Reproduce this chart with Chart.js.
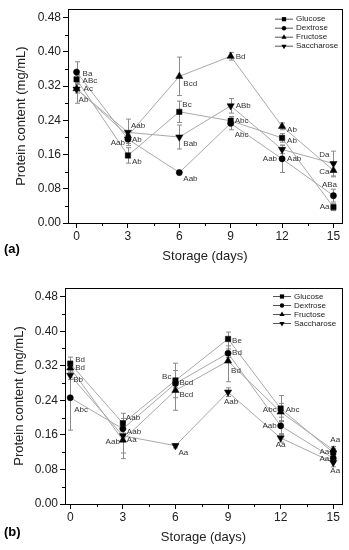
<!DOCTYPE html>
<html><head><meta charset="utf-8">
<script src="https://cdn.jsdelivr.net/npm/chart.js@4.4.1/dist/chart.umd.min.js"></script>
<style>
html,body{margin:0;padding:0;background:#fff;}
canvas{position:absolute;left:0;}
#ca{top:0;}
#cb{top:275px;}
</style></head><body>
<canvas id="ca" width="349" height="275"></canvas>
<canvas id="cb" width="349" height="275"></canvas>
<script>
// ---------- data ----------
const days = [0, 3, 6, 9, 12, 15];
const seriesNames = ['Glucose', 'Dextrose', 'Fructose', 'Saccharose'];
const xTickValues = [0, 3, 6, 9, 12, 15];
const yTickValues = [0, 0.08, 0.16, 0.24, 0.32, 0.40, 0.48];
const xMinorValues = [1.5, 4.5, 7.5, 10.5, 13.5];
const yMinorValues = [0.04, 0.12, 0.20, 0.28, 0.36, 0.44];

// panel (a)
const glucoseA    = [0.336, 0.158, 0.260, 0.239, 0.199, 0.037];
const dextroseA   = [0.353, 0.196, 0.118, 0.233, 0.150, 0.064];
const fructoseA   = [0.314, 0.204, 0.343, 0.390, 0.226, 0.123];
const saccharoseA = [0.313, 0.212, 0.201, 0.274, 0.172, 0.139];
const glucoseErrA    = [0.010, 0.018, 0.025, 0.010, 0.010, 0.008];
const dextroseErrA   = [0.024, 0.010, 0.005, 0.015, 0.032, 0.015];
const fructoseErrA   = [0.010, 0.010, 0.045, 0.009, 0.008, 0.015];
const saccharoseErrA = [0.033, 0.031, 0.028, 0.017, 0.010, 0.029];
const glucoseLabA    = ['ABc', 'Ab', 'Bc', 'Abc', 'Ab', 'Aa'];
const dextroseLabA   = ['Ba', 'Ab', 'Aab', 'Abc', 'Aab', 'ABa'];
const fructoseLabA   = ['Ac', 'Aab', 'Bcd', 'Bd', 'Ab', 'Ca'];
const saccharoseLabA = ['Ab', 'Aab', 'Bab', 'ABb', 'Aab', 'Da'];

// panel (b)
const glucoseB    = [0.325, 0.187, 0.286, 0.382, 0.221, 0.119];
const dextroseB   = [0.246, 0.174, 0.279, 0.349, 0.181, 0.106];
const fructoseB   = [0.315, 0.148, 0.263, 0.331, 0.213, 0.125];
const saccharoseB = [0.298, 0.158, 0.135, 0.259, 0.153, 0.096];
const glucoseErrB    = [0.015, 0.023, 0.040, 0.016, 0.030, 0.010];
const dextroseErrB   = [0.075, 0.015, 0.010, 0.010, 0.020, 0.010];
const fructoseErrB   = [0.010, 0.043, 0.046, 0.048, 0.020, 0.008];
const saccharoseErrB = [0.010, 0.040, 0.005, 0.010, 0.010, 0.010];
const glucoseLabB    = ['Bd', 'Aab', 'Bc', 'Be', 'Abc', 'Aa'];
const dextroseLabB   = ['Abc', 'Aab', 'Bcd', 'Bd', 'Aab', 'Aa'];
const fructoseLabB   = ['Bd', 'Aa', 'Bcd', 'Bd', 'Abc', 'Aa'];
const saccharoseLabB = ['Bb', 'Aab', 'Aa', 'Aab', 'Aa', 'Aa'];

// ---------- label placement (offsets from point, px) ----------
const labelPosA = [
  [[6,1,'left'],[4,6,'left'],[3,-7,'left'],[4,0,'left'],[5,3,'left'],[-4,0,'right']],
  [[6,2,'left'],[4,1,'left'],[4,6,'left'],[4,11,'left'],[5,0,'left'],[-4,-11,'center']],
  [[7,0,'left'],[-3,7,'right'],[4,7,'left'],[5,1,'left'],[5,3,'left'],[-4,1,'right']],
  [[2,11,'left'],[3,-7,'left'],[4,7,'left'],[5,0,'left'],[-5,9,'right'],[-4,-9,'right']]
];
const labelPosB = [
  [[5,-4,'left'],[3,-5,'left'],[-4,-4,'right'],[4,2,'left'],[5,1,'left'],[-4,-1,'right']],
  [[4,12,'left'],[4,3,'left'],[4,-1,'left'],[4,0,'left'],[-4,0,'right'],[-4,1,'right']],
  [[5,0,'left'],[4,0,'left'],[4,4,'left'],[3,10,'left'],[-4,-2,'right'],[2,-10,'center']],
  [[3,5,'left'],[-3,6,'right'],[3,7,'left'],[3,10,'center'],[0,7,'center'],[2,8,'center']]
];

const FONT = "'Liberation Sans', Arial, sans-serif";
const LINE_COLOR = '#a8a8a8';
const ERR_COLOR = '#8a8a8a';
const styles = [
  {pointStyle: 'rect', radius: 3.8, rotation: 0},
  {pointStyle: 'circle', radius: 3.1, rotation: 0},
  {pointStyle: 'triangle', radius: 4.2, rotation: 0},
  {pointStyle: 'triangle', radius: 4.2, rotation: 180}
];

function toPts(arr) { return arr.map((v, i) => ({x: days[i], y: v})); }

function drawMarker(ctx, style, x, y, r) {
  ctx.save();
  ctx.fillStyle = '#000';
  ctx.beginPath();
  if (style === 0) {
    const s = r * Math.SQRT1_2;
    ctx.rect(x - s, y - s, 2 * s, 2 * s);
  } else if (style === 1) {
    ctx.arc(x, y, r, 0, Math.PI * 2);
  } else {
    const dir = style === 2 ? 1 : -1;
    ctx.moveTo(x, y - dir * r);
    ctx.lineTo(x + r * 0.866, y + dir * r * 0.5);
    ctx.lineTo(x - r * 0.866, y + dir * r * 0.5);
    ctx.closePath();
  }
  ctx.fill();
  ctx.restore();
}

function makeChart(canvasId, cfg) {
  const vals = [cfg.g, cfg.d, cfg.f, cfg.s];
  const datasets = vals.map((v, i) => ({
    label: seriesNames[i],
    data: toPts(v),
    borderColor: LINE_COLOR,
    borderWidth: 1,
    backgroundColor: '#000',
    pointBackgroundColor: '#000',
    pointBorderColor: '#000',
    pointBorderWidth: 0.5,
    pointStyle: styles[i].pointStyle,
    pointRadius: styles[i].radius,
    pointRotation: styles[i].rotation,
    pointHoverRadius: styles[i].radius,
    tension: 0,
    fill: false,
    errs: cfg.errs[i],
    labs: cfg.labs[i],
    labPos: cfg.labPos[i]
  }));

  const panelPlugin = {
    id: 'panel' + canvasId,
    beforeDatasetsDraw(chart) {
      const ctx = chart.ctx;
      const xs = chart.scales.x, ys = chart.scales.y;
      ctx.save();
      ctx.strokeStyle = ERR_COLOR;
      ctx.lineWidth = 1;
      chart.data.datasets.forEach(ds => {
        ds.data.forEach((p, j) => {
          const e = ds.errs[j];
          const px = Math.round(xs.getPixelForValue(p.x)) + 0.5;
          const y1 = ys.getPixelForValue(p.y + e);
          const y2 = ys.getPixelForValue(p.y - e);
          ctx.beginPath();
          ctx.moveTo(px, y1); ctx.lineTo(px, y2);
          ctx.moveTo(px - 2.5, y1); ctx.lineTo(px + 2.5, y1);
          ctx.moveTo(px - 2.5, y2); ctx.lineTo(px + 2.5, y2);
          ctx.stroke();
        });
      });
      ctx.restore();
    },
    afterDatasetsDraw(chart) {
      const ctx = chart.ctx;
      const area = chart.chartArea;
      ctx.save();
      // point letters
      ctx.font = '8px ' + FONT;
      ctx.fillStyle = '#333';
      ctx.textBaseline = 'middle';
      chart.data.datasets.forEach((ds, i) => {
        const meta = chart.getDatasetMeta(i);
        meta.data.forEach((pt, j) => {
          const pos = ds.labPos[j];
          ctx.textAlign = pos[2];
          ctx.fillText(ds.labs[j], pt.x + pos[0], pt.y + pos[1]);
        });
      });
      // frame
      ctx.strokeStyle = '#000';
      ctx.lineWidth = 1;
      ctx.strokeRect(Math.round(area.left) + 0.5, Math.round(area.top) + 0.5,
                     Math.round(area.right - area.left), Math.round(area.bottom - area.top));
      // minor ticks
      const xs = chart.scales.x, ys = chart.scales.y;
      ctx.beginPath();
      yMinorValues.forEach(v => {
        const y = Math.round(ys.getPixelForValue(v)) + 0.5;
        ctx.moveTo(area.left - 3, y); ctx.lineTo(area.left, y);
      });
      xMinorValues.forEach(v => {
        const x = Math.round(xs.getPixelForValue(v)) + 0.5;
        ctx.moveTo(x, area.bottom); ctx.lineTo(x, area.bottom + 3);
      });
      ctx.stroke();
      // legend
      const lx0 = area.right - cfg.legRight;
      ctx.font = '8px ' + FONT;
      ctx.fillStyle = '#222';
      ctx.textAlign = 'left';
      seriesNames.forEach((name, i) => {
        const y = area.top + cfg.legTop + i * 9;
        ctx.strokeStyle = '#555';
        ctx.beginPath();
        ctx.moveTo(lx0, y + 0.5); ctx.lineTo(lx0 + 18, y + 0.5);
        ctx.stroke();
        drawMarker(ctx, i, lx0 + 9, y + 0.5, i === 1 ? 2.2 : (i === 0 ? 3 : 3));
        ctx.fillStyle = '#222';
        ctx.fillText(name, lx0 + 21, y + 0.5);
      });
      // panel letter
      ctx.font = 'bold 13px ' + FONT;
      ctx.fillStyle = '#000';
      ctx.textAlign = 'left';
      ctx.fillText(cfg.panel, 4, cfg.panelY);
      ctx.restore();
    }
  };

  return new Chart(document.getElementById(canvasId), {
    type: 'line',
    data: {datasets},
    options: {
      responsive: false,
      animation: false,
      devicePixelRatio: 1,
      layout: {padding: {top: cfg.padTop, right: cfg.padRight, left: 0, bottom: 0}},
      plugins: {legend: {display: false}, tooltip: {enabled: false}},
      scales: {
        x: {
          type: 'linear',
          min: cfg.xMin, max: 15.5,
          afterBuildTicks: s => { s.ticks = xTickValues.map(v => ({value: v})); },
          afterFit: s => { s.height = cfg.xAxisH; },
          ticks: {color: '#222', font: {family: FONT, size: 12}, padding: 1, maxRotation: 0,
                  callback: v => String(v)},
          grid: {display: true, drawOnChartArea: false, drawTicks: true, tickLength: 5,
                 color: '#000', tickColor: '#000'},
          border: {display: true, color: '#000', width: 1},
          title: {display: true, text: 'Storage (days)', color: '#222',
                  font: {family: FONT, size: 13}, padding: {top: 0, bottom: cfg.xTitlePad}}
        },
        y: {
          type: 'linear',
          min: 0, max: 0.5,
          afterBuildTicks: s => { s.ticks = yTickValues.map(v => ({value: v})); },
          afterFit: s => { s.width = cfg.yAxisW; },
          ticks: {color: '#222', font: {family: FONT, size: 12}, padding: 2,
                  callback: v => Number(v).toFixed(2)},
          grid: {display: true, drawOnChartArea: false, drawTicks: true, tickLength: 5,
                 color: '#000', tickColor: '#000'},
          border: {display: true, color: '#000', width: 1},
          title: {display: true, text: 'Protein content (mg/mL)', color: '#222',
                  font: {family: FONT, size: 13}, padding: {top: cfg.yTitlePad, bottom: 0}}
        }
      }
    },
    plugins: [panelPlugin]
  });
}

makeChart('ca', {
  g: glucoseA, d: dextroseA, f: fructoseA, s: saccharoseA,
  errs: [glucoseErrA, dextroseErrA, fructoseErrA, saccharoseErrA],
  labs: [glucoseLabA, dextroseLabA, fructoseLabA, saccharoseLabA],
  labPos: labelPosA,
  xMin: -0.5, padTop: 6, padRight: 7, yAxisW: 68, xAxisH: 52,
  xTitlePad: 11, yTitlePad: 14, legRight: 67, legTop: 9.5,
  panel: '(a)', panelY: 249
});
makeChart('cb', {
  g: glucoseB, d: dextroseB, f: fructoseB, s: saccharoseB,
  errs: [glucoseErrB, dextroseErrB, fructoseErrB, saccharoseErrB],
  labs: [glucoseLabB, dextroseLabB, fructoseLabB, saccharoseLabB],
  labPos: labelPosB,
  xMin: -0.3, padTop: 13, padRight: 7, yAxisW: 65, xAxisH: 46,
  xTitlePad: 4.5, yTitlePad: 12, legRight: 69, legTop: 8,
  panel: '(b)', panelY: 257
});
</script>
</body></html>
